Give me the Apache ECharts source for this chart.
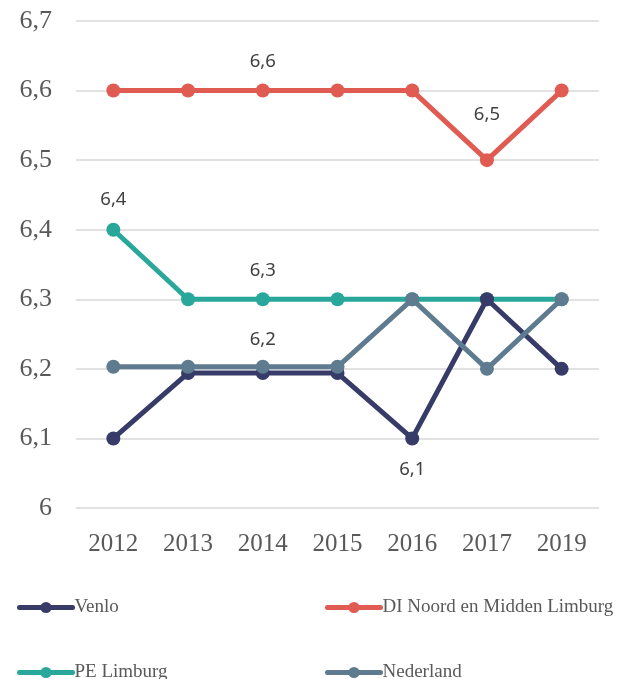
<!DOCTYPE html>
<html>
<head>
<meta charset="utf-8">
<script src="https://cdn.jsdelivr.net/npm/echarts@6/dist/echarts.min.js"></script>
<style>
  html, body { margin: 0; padding: 0; background: #fff; }
  #chart { width: 627px; height: 679px; }
</style>
</head>
<body>
<div id="chart"></div>
<script>
  var years = ['2012', '2013', '2014', '2015', '2016', '2017', '2019'];
  var venlo = [6.1, 6.194, 6.194, 6.194, 6.1, 6.3, 6.2];
  var diNoord = [6.6, 6.6, 6.6, 6.6, 6.6, 6.5, 6.6];
  var peLimburg = [6.4, 6.3, 6.3, 6.3, 6.3, 6.3, 6.3];
  var nederland = [6.203, 6.203, 6.203, 6.203, 6.3, 6.2, 6.3];
  var yTicks = [6, 6.1, 6.2, 6.3, 6.4, 6.5, 6.6, 6.7];

  // which points carry a value label: [index, position, distance]
  var venloLabels = [[4, 'bottom', 15]];
  var diLabels = [[2, 'top', 12], [5, 'top', 29]];
  var peLabels = [[0, 'top', 13], [2, 'top', 12]];
  var nlLabels = [[2, 'top', 11]];

  var chart = echarts.init(document.getElementById('chart'));

  function comma(v) {
    return (Math.round(v * 10) / 10).toString().replace('.', ',');
  }

  function withLabels(values, labels) {
    return values.map(function (v, i) {
      var item = { value: v };
      labels.forEach(function (l) {
        if (l[0] === i) {
          item.label = { show: true, position: l[1], distance: l[2] };
        }
      });
      return item;
    });
  }

  function lineSeries(name, values, labels, color, z) {
    return {
      name: name,
      type: 'line',
      data: withLabels(values, labels),
      symbol: 'circle',
      symbolSize: 14,
      z: z,
      lineStyle: { width: 5, color: color },
      itemStyle: { color: color },
      label: {
        show: false,
        fontFamily: 'Noto Sans',
        fontSize: 18.5,
        color: '#404040',
        formatter: function (p) { return comma(p.value); }
      },
      emphasis: { disabled: true },
      animation: false
    };
  }

  function legendItem(name, left, top) {
    return {
      data: [name],
      left: left, top: top,
      itemWidth: 53, itemHeight: 14,
      itemGap: 0,
      lineStyle: { width: 5, cap: 'round' },
      textStyle: { fontFamily: 'Liberation Serif', fontSize: 19, color: '#595959', padding: [0, 0, 0, -3] }
    };
  }

  var option = {
    backgroundColor: '#fff',
    grid: { left: 76, right: 28, top: 21, bottom: 171 },
    legend: [
      legendItem('Venlo', 12, 593),
      legendItem('DI Noord en Midden Limburg', 320, 593),
      legendItem('PE Limburg', 12, 658),
      legendItem('Nederland', 320, 658)
    ],
    xAxis: {
      type: 'category',
      data: years,
      boundaryGap: true,
      axisLine: { show: false },
      axisTick: { show: false },
      axisLabel: {
        margin: 24,
        fontFamily: 'Liberation Serif',
        fontSize: 25,
        color: '#595959'
      }
    },
    yAxis: {
      type: 'value',
      min: yTicks[0],
      max: yTicks[yTicks.length - 1],
      interval: 0.1,
      axisLine: { show: false },
      axisTick: { show: false },
      splitLine: { lineStyle: { color: '#d9d9d9', width: 1.5 } },
      axisLabel: {
        margin: 24,
        fontFamily: 'Liberation Serif',
        fontSize: 26,
        color: '#595959',
        formatter: function (v) { return comma(v); }
      }
    },
    series: [
      lineSeries('Venlo', venlo, venloLabels, '#363b68', 3),
      lineSeries('DI Noord en Midden Limburg', diNoord, diLabels, '#e05c52', 2),
      lineSeries('PE Limburg', peLimburg, peLabels, '#2aa79b', 2),
      lineSeries('Nederland', nederland, nlLabels, '#5e7b90', 4)
    ]
  };

  chart.setOption(option);
</script>
</body>
</html>
